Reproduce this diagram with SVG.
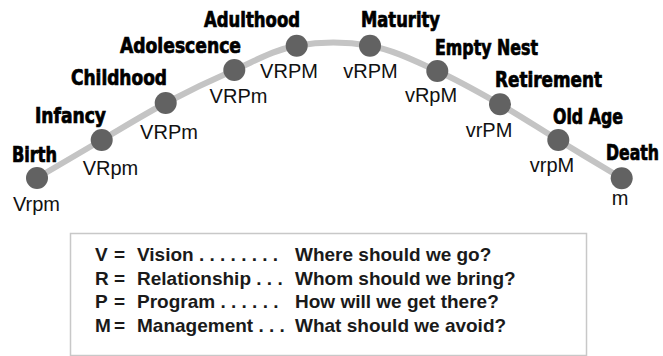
<svg xmlns="http://www.w3.org/2000/svg" width="663" height="356" viewBox="0 0 663 356">
<style>
.stage{font-family:"DejaVu Sans Condensed","Liberation Sans Narrow","Liberation Sans",sans-serif;font-weight:bold;font-size:21px;fill:#000;stroke:#000;stroke-width:0.7}
.code{font-family:"Liberation Sans",Arial,sans-serif;font-size:20px;fill:#111;text-anchor:middle}
.leg{font-family:"Liberation Sans",Arial,sans-serif;font-weight:bold;font-size:19px;fill:#1a1a1a}
.dot{fill:#626262}
</style>
<rect width="663" height="356" fill="#fff"/>
<g id="connectors">
<path d="M37,178 C47.8,171.7 80.25,152.5 101.7,140 C123.15,127.5 143.6,114.67 165.7,103 C187.8,91.33 212.47,79.55 234.3,70 C256.13,60.45 274.08,49.75 296.7,45.7 C319.32,41.65 346.57,41.48 370,45.7 C393.43,49.92 415.63,61.23 437.3,71 C458.97,80.77 479.830,92.8 500,104.3 C520.17,115.8 538.02,127.67 558.3,140 C578.58,152.33 611.13,171.92 621.7,178.3" fill="none" stroke="#c4c4c4" stroke-width="6" stroke-linecap="round"/>
</g>
<g id="birth"><circle class="dot" cx="37" cy="178" r="11"/><text class="stage" x="12" y="162" textLength="45" lengthAdjust="spacingAndGlyphs">Birth</text><text class="code" x="36.5" y="211">Vrpm</text></g>
<g id="infancy"><circle class="dot" cx="101.7" cy="140" r="11"/><text class="stage" x="35" y="123" textLength="71" lengthAdjust="spacingAndGlyphs">Infancy</text><text class="code" x="110.5" y="175">VRpm</text></g>
<g id="childhood"><circle class="dot" cx="165.7" cy="103" r="11"/><text class="stage" x="71" y="85" textLength="96" lengthAdjust="spacingAndGlyphs">Childhood</text><text class="code" x="169" y="139">VRPm</text></g>
<g id="adolescence"><circle class="dot" cx="234.3" cy="70" r="11"/><text class="stage" x="120" y="53" textLength="121" lengthAdjust="spacingAndGlyphs">Adolescence</text><text class="code" x="238.5" y="103">VRPm</text></g>
<g id="adulthood"><circle class="dot" cx="296.7" cy="45.7" r="11"/><text class="stage" x="204" y="27" textLength="96" lengthAdjust="spacingAndGlyphs">Adulthood</text><text class="code" x="289" y="78">VRPM</text></g>
<g id="maturity"><circle class="dot" cx="370" cy="45.7" r="11"/><text class="stage" x="361" y="27" textLength="79" lengthAdjust="spacingAndGlyphs">Maturity</text><text class="code" x="370.5" y="78">vRPM</text></g>
<g id="empty-nest"><circle class="dot" cx="437.3" cy="71" r="11"/><text class="stage" x="435" y="55" textLength="103" lengthAdjust="spacingAndGlyphs">Empty Nest</text><text class="code" x="431" y="102">vRpM</text></g>
<g id="retirement"><circle class="dot" cx="500" cy="104.3" r="11"/><text class="stage" x="495" y="87" textLength="107" lengthAdjust="spacingAndGlyphs">Retirement</text><text class="code" x="489" y="137">vrPM</text></g>
<g id="old-age"><circle class="dot" cx="558.3" cy="140" r="11"/><text class="stage" x="553" y="124" textLength="70" lengthAdjust="spacingAndGlyphs">Old Age</text><text class="code" x="552" y="172">vrpM</text></g>
<g id="death"><circle class="dot" cx="621.7" cy="178.3" r="11"/><text class="stage" x="606" y="160" textLength="53" lengthAdjust="spacingAndGlyphs">Death</text><text class="code" x="620" y="205">m</text></g>
<g id="legend">
<rect x="70.5" y="233.5" width="516" height="122" fill="none" stroke="#c8c8c8" stroke-width="1.5"/>
<text class="leg" x="95" y="261">V</text><text class="leg" x="114" y="261">=</text><text class="leg" x="137" y="261">Vision . . . . . . . .</text><text class="leg" x="295" y="261">Where should we go?</text>
<text class="leg" x="95" y="285">R</text><text class="leg" x="114" y="285">=</text><text class="leg" x="137" y="285">Relationship . . .</text><text class="leg" x="295" y="285">Whom should we bring?</text>
<text class="leg" x="95" y="308">P</text><text class="leg" x="114" y="308">=</text><text class="leg" x="137" y="308">Program . . . . . .</text><text class="leg" x="295" y="308">How will we get there?</text>
<text class="leg" x="95" y="332">M</text><text class="leg" x="114" y="332">=</text><text class="leg" x="137" y="332">Management . . .</text><text class="leg" x="295" y="332">What should we avoid?</text>
</g>
</svg>
